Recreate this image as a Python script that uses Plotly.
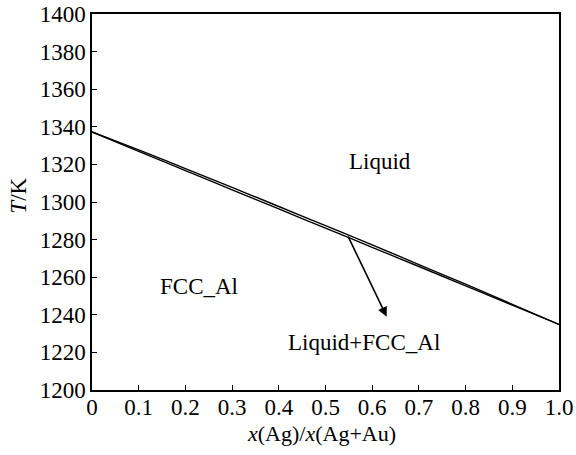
import plotly.graph_objects as go

x_ag = [0.0, 0.1, 0.2, 0.3, 0.4, 0.5, 0.6, 0.7, 0.8, 0.9, 1.0]
liquidus = [1337.3, 1327.7, 1317.8, 1307.8, 1297.6, 1287.4, 1277.2, 1266.7, 1256.3, 1245.6, 1234.9]
solidus = [1337.3, 1326.9, 1316.7, 1306.5, 1296.3, 1286.1, 1275.9, 1265.7, 1255.4, 1245.1, 1234.9]

x_ticks = [0, 0.1, 0.2, 0.3, 0.4, 0.5, 0.6, 0.7, 0.8, 0.9, 1.0]
x_tick_text = ["0", "0.1", "0.2", "0.3", "0.4", "0.5", "0.6", "0.7", "0.8", "0.9", "1.0"]
y_ticks = [1200, 1220, 1240, 1260, 1280, 1300, 1320, 1340, 1360, 1380, 1400]

FONT = "Liberation Serif, Times New Roman, serif"
FS = 23

fig = go.Figure()
fig.add_trace(go.Scatter(x=x_ag, y=liquidus, mode="lines", line=dict(color="black", width=1.4), line_shape="spline", showlegend=False))
fig.add_trace(go.Scatter(x=x_ag, y=solidus, mode="lines", line=dict(color="black", width=1.4), line_shape="spline", showlegend=False))

font = dict(family=FONT, size=FS, color="black")
fig.add_annotation(x=0.617, y=1321.5, text="Liquid", showarrow=False, font=font)
fig.add_annotation(x=0.229, y=1255, text="FCC_Al", showarrow=False, font=font)
fig.add_annotation(x=0.582, y=1225.5, text="Liquid+FCC_Al", showarrow=False, font=font)
fig.add_annotation(x=0.631, y=1239.0, ax=0.547, ay=1282.4, axref="x", ayref="y", xref="x", yref="y",
                   text="", showarrow=True, arrowhead=2, arrowsize=1.2, arrowwidth=1.6, arrowcolor="black")

# axis titles
fig.add_annotation(xref="paper", yref="paper", x=0.491, y=-0.117, yanchor="middle", xanchor="center",
                   text="<i>x</i>(Ag)/<i>x</i>(Ag+Au)", showarrow=False,
                   font=dict(family=FONT, size=22, color="black"))
fig.add_annotation(xref="paper", yref="paper", x=-0.157, y=0.516, yanchor="middle", xanchor="center",
                   text="<i>T</i>/K", textangle=-90, showarrow=False, font=font)

fig.update_xaxes(range=[0, 1.0], tickvals=x_ticks, ticktext=x_tick_text, ticks="inside", ticklen=5,
                 tickwidth=1.3, tickcolor="black", showline=True, linecolor="black", linewidth=1.5,
                 mirror=True, showgrid=False, zeroline=False, automargin=False, ticklabelstandoff=-4,
                 tickfont=font)
fig.update_yaxes(range=[1200, 1400], tickvals=y_ticks, ticks="inside", ticklen=5,
                 tickwidth=1.3, tickcolor="black", showline=True, linecolor="black", linewidth=1.5,
                 mirror=True, showgrid=False, zeroline=False, automargin=False,
                 tickfont=font)

fig.update_layout(width=576, height=455, margin=dict(l=92, r=17, t=14, b=65),
                  plot_bgcolor="white", paper_bgcolor="white")

fig.write_html("out.html")
